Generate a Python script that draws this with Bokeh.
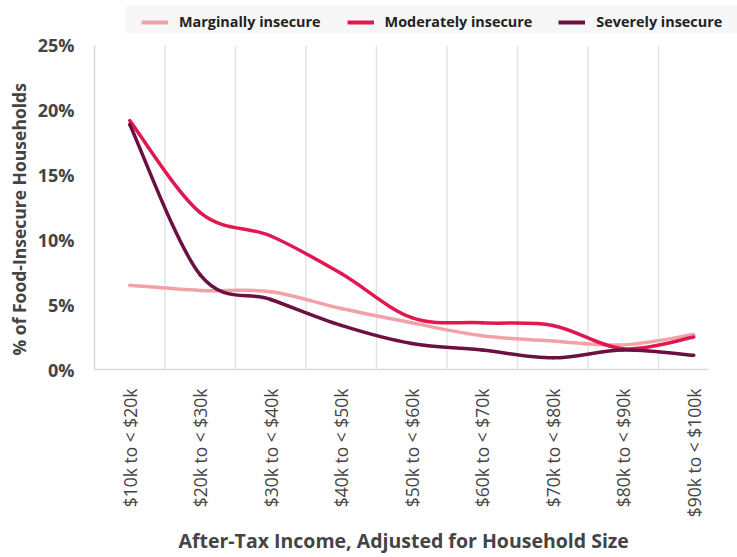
import math

from bokeh.plotting import figure
from bokeh.models import Range1d, FixedTicker, Legend, LegendItem, BoxAnnotation, Title
from bokeh.embed import file_html
from bokeh.resources import INLINE

# Income bands (after-tax, adjusted for household size)
categories = ["$10k to < $20k", "$20k to < $30k", "$30k to < $40k", "$40k to < $50k",
              "$50k to < $60k", "$60k to < $70k", "$70k to < $80k", "$80k to < $90k",
              "$90k to < $100k"]

# Share of food-insecure households (%) by severity
marginal = [6.5, 6.1, 6.0, 4.7, 3.6, 2.6, 2.2, 1.9, 2.7]
moderate = [19.2, 12.1, 10.3, 7.4, 4.0, 3.6, 3.4, 1.6, 2.5]
severe = [18.9, 7.3, 5.4, 3.4, 2.0, 1.5, 0.9, 1.5, 1.1]

series_names = ["Marginally insecure", "Moderately insecure", "Severely insecure"]
series_colors = ["#F2A1A6", "#E3174F", "#6B1040"]

y_ticks = [0, 5, 10, 15, 20, 25]

x_title = "After-Tax Income, Adjusted for Household Size"
y_title = "% of Food-Insecure Households"

TICK_FONT = "Open Sans"
BOLD_FONT = "Open Sans"
GRID_COLOR = "#E3E3E3"
AXIS_COLOR = "#D9D9D9"
TEXT_COLOR = "#444444"

# The frame reaches the top and right canvas edges so the legend strip can sit
# above the plotted area; axis lines and separators are bounded to the data extent.
p = figure(width=737, height=557, output_backend="svg", toolbar_location=None,
           x_range=Range1d(-0.5, 8.62), y_range=Range1d(0, 28.47),
           min_border_left=92, min_border_right=0, min_border_top=0,
           min_border_bottom=188)
p.outline_line_color = None
p.background_fill_color = "white"
p.xgrid.grid_line_color = None
p.ygrid.grid_line_color = None

# Vertical separators between income bands
n = len(categories)
bounds_x = [i + 0.5 for i in range(n - 1)]
p.segment(x0=bounds_x, y0=[y_ticks[0]] * len(bounds_x),
          x1=bounds_x, y1=[y_ticks[-1]] * len(bounds_x),
          line_color=GRID_COLOR, line_width=1.5)


def smooth_segments(ys):
    """Cubic Bezier segments through every point (Catmull-Rom style tangents)."""
    xs = list(range(len(ys)))
    m = len(xs)
    seg = dict(x0=[], y0=[], x1=[], y1=[], cx0=[], cy0=[], cx1=[], cy1=[])
    for i in range(m - 1):
        xp, yp = (xs[i - 1], ys[i - 1]) if i > 0 else (xs[i], ys[i])
        xn, yn = (xs[i + 2], ys[i + 2]) if i + 2 < m else (xs[i + 1], ys[i + 1])
        seg["x0"].append(xs[i]); seg["y0"].append(ys[i])
        seg["x1"].append(xs[i + 1]); seg["y1"].append(ys[i + 1])
        seg["cx0"].append(xs[i] + (xs[i + 1] - xp) / 6.0)
        seg["cy0"].append(ys[i] + (ys[i + 1] - yp) / 6.0)
        seg["cx1"].append(xs[i + 1] - (xn - xs[i]) / 6.0)
        seg["cy1"].append(ys[i + 1] - (yn - ys[i]) / 6.0)
    return seg


nan = float("nan")
legend_items = []
for name, ys, color in zip(series_names, [marginal, moderate, severe], series_colors):
    p.bezier(source=smooth_segments(ys), x0="x0", y0="y0", x1="x1", y1="y1",
             cx0="cx0", cy0="cy0", cx1="cx1", cy1="cy1",
             line_color=color, line_width=3.5, line_cap="round")
    # legend key only: a line renderer with no drawable points
    key = p.line(x=[nan, nan], y=[nan, nan], line_color=color, line_width=4)
    legend_items.append(LegendItem(label=name, renderers=[key]))

# Axes
xa = p.xaxis[0]
xa.bounds = (-0.5, 8.21)
xa.ticker = FixedTicker(ticks=list(range(n)))
xa.major_label_overrides = {i: c for i, c in enumerate(categories)}
xa.major_label_orientation = math.pi / 2
xa.major_label_text_font = TICK_FONT
xa.major_label_text_font_size = "17.5px"
xa.major_label_text_color = TEXT_COLOR
xa.major_label_standoff = 13
xa.major_tick_line_color = None
xa.minor_tick_line_color = None
xa.axis_line_color = AXIS_COLOR
xa.axis_line_width = 1.5

ya = p.yaxis[0]
ya.bounds = (y_ticks[0], y_ticks[-1])
ya.ticker = FixedTicker(ticks=y_ticks)
ya.major_label_overrides = {t: f"{t}%" for t in y_ticks}
ya.major_label_text_font = TICK_FONT
ya.major_label_text_font_size = "18px"
ya.major_label_text_font_style = "bold"
ya.major_label_text_color = TEXT_COLOR
ya.major_label_standoff = 14
ya.major_tick_line_color = None
ya.minor_tick_line_color = None
ya.axis_line_color = AXIS_COLOR
ya.axis_line_width = 1.5

# Axis titles, aligned to the bounded axis extent
p.add_layout(Title(text=x_title, align="left", offset=84, standoff=8,
                   text_font=BOLD_FONT, text_font_style="bold",
                   text_font_size="19.5px", text_color=TEXT_COLOR), "below")
p.add_layout(Title(text=y_title, align="left", offset=14, standoff=8,
                   text_font=BOLD_FONT, text_font_style="bold",
                   text_font_size="17.5px", text_color=TEXT_COLOR), "left")

# Legend strip
p.add_layout(BoxAnnotation(left=125, right=737, top=5, bottom=33,
                           left_units="canvas", right_units="canvas",
                           top_units="canvas", bottom_units="canvas",
                           fill_color="#F7F7F7", fill_alpha=1.0, line_color=None))

legend = Legend(items=legend_items, orientation="horizontal", location=(47, 338),
                glyph_width=27, glyph_height=14, label_standoff=11, spacing=26,
                padding=0, margin=0,
                label_text_font=BOLD_FONT, label_text_font_style="bold",
                label_text_font_size="14.4px", label_text_color="#222222",
                background_fill_alpha=0.0, border_line_color=None)
p.add_layout(legend)

open("out.html", "w").write(file_html(p, INLINE))
